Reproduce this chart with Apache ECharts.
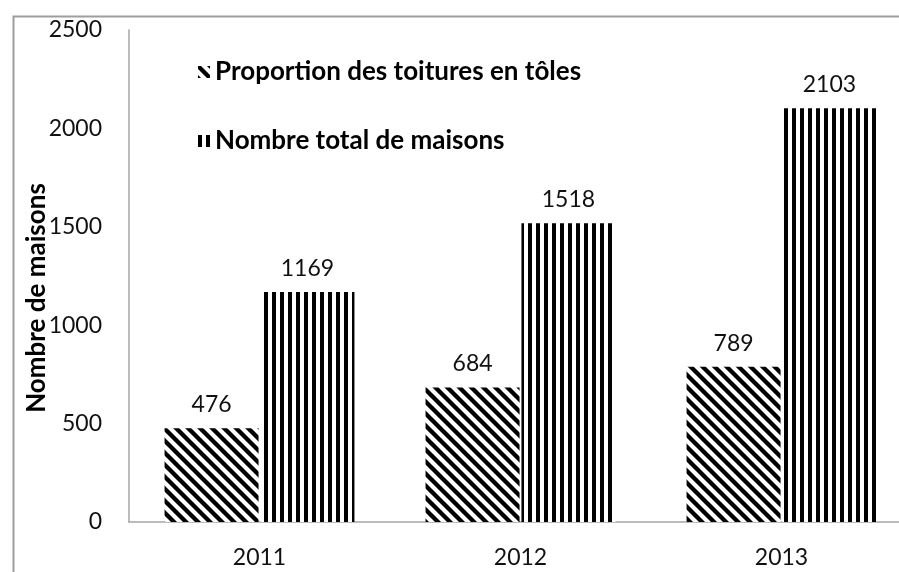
<!DOCTYPE html>
<html>
<head>
<meta charset="utf-8">
<script src="https://cdn.jsdelivr.net/npm/echarts@6/dist/echarts.min.js"></script>
<style>
  html, body { margin: 0; padding: 0; background: #fff; overflow: hidden; }
  body { width: 899px; height: 572px; }
  /* plot continues a little past the right edge of the window */
  #chart { width: 912px; height: 572px; }
</style>
</head>
<body>
<div id="chart"></div>
<script>
// Housing counts per year
const years = ['2011', '2012', '2013'];
const tinRoofs = [476, 684, 789];
const totalHouses = [1169, 1518, 2103];
const seriesNames = ['Proportion des toitures en tôles', 'Nombre total de maisons'];
const yTitle = 'Nombre de maisons';
const yTicks = { min: 0, max: 2500, step: 500 };

const FONT = 'Lato';

// Diagonal "\" hatch tile
function diagonalTile() {
  const s = 12;
  const c = document.createElement('canvas');
  c.width = s; c.height = s;
  const g = c.getContext('2d');
  g.fillStyle = '#fff';
  g.fillRect(0, 0, s, s);
  g.strokeStyle = '#000';
  g.lineWidth = 4.3;
  g.beginPath();
  for (const o of [-s, 0, s]) {
    g.moveTo(o - 2, -2);
    g.lineTo(o + s + 2, s + 2);
  }
  g.stroke();
  return c;
}

// Vertical stripe tile
function verticalTile() {
  const c = document.createElement('canvas');
  c.width = 8; c.height = 8;
  const g = c.getContext('2d');
  g.fillStyle = '#fff';
  g.fillRect(0, 0, 8, 8);
  g.fillStyle = '#000';
  g.fillRect(0, 0, 4, 8);
  return c;
}

const hatch = { image: diagonalTile(), repeat: 'repeat' };
const stripes = { image: verticalTile(), repeat: 'repeat' };

const axisGray = '#a6a6a6';
const labelStyle = { fontFamily: FONT, fontSize: 23, color: '#111' };
const boldStyle = { fontFamily: FONT, fontSize: 26, fontWeight: 'bold', color: '#000' };

const chart = echarts.init(document.getElementById('chart'), null, { renderer: 'canvas' });

chart.setOption({
  backgroundColor: '#fff',
  animation: false,
  grid: { left: 129, top: 30, right: 0, bottom: 50, containLabel: false },
  legend: {
    orient: 'vertical',
    left: 193,
    top: 52,
    itemWidth: 12,
    itemHeight: 12,
    itemGap: 39,
    icon: 'rect',
    textStyle: Object.assign({ lineHeight: 30 }, boldStyle),
    data: seriesNames
  },
  xAxis: {
    type: 'category',
    data: years,
    axisLine: { lineStyle: { color: axisGray, width: 1.5 } },
    axisTick: { show: false },
    axisLabel: Object.assign({ margin: 24 }, labelStyle),
    splitLine: { show: false }
  },
  yAxis: {
    type: 'value',
    min: yTicks.min,
    max: yTicks.max,
    interval: yTicks.step,
    axisLine: { show: true, lineStyle: { color: axisGray, width: 1.5 } },
    axisTick: { show: false },
    splitLine: { show: false },
    axisLabel: Object.assign({ margin: 27, formatter: v => String(v) }, labelStyle)
  },
  series: [
    {
      name: seriesNames[0],
      type: 'bar',
      data: tinRoofs,
      barWidth: 94,
      barGap: '2%',
      itemStyle: { color: hatch },
      label: Object.assign({ show: true, position: 'top', distance: 12 }, labelStyle)
    },
    {
      name: seriesNames[1],
      type: 'bar',
      data: totalHouses,
      barWidth: 94,
      barGap: '2%',
      itemStyle: { color: stripes },
      label: Object.assign({ show: true, position: 'top', distance: 12 }, labelStyle)
    }
  ],
  graphic: [
    {
      type: 'rect',
      left: 11,
      top: 14,
      shape: { x: 0, y: 0, width: 1000, height: 1000 },
      style: { fill: 'none', stroke: '#9e9e9e', lineWidth: 2 },
      silent: true
    },
    {
      // vertical axis title
      type: 'text',
      x: 37,
      y: 298,
      rotation: Math.PI / 2,
      style: Object.assign({ text: yTitle, align: 'center', verticalAlign: 'middle' }, boldStyle),
      silent: true
    }
  ]
});
</script>
</body>
</html>
